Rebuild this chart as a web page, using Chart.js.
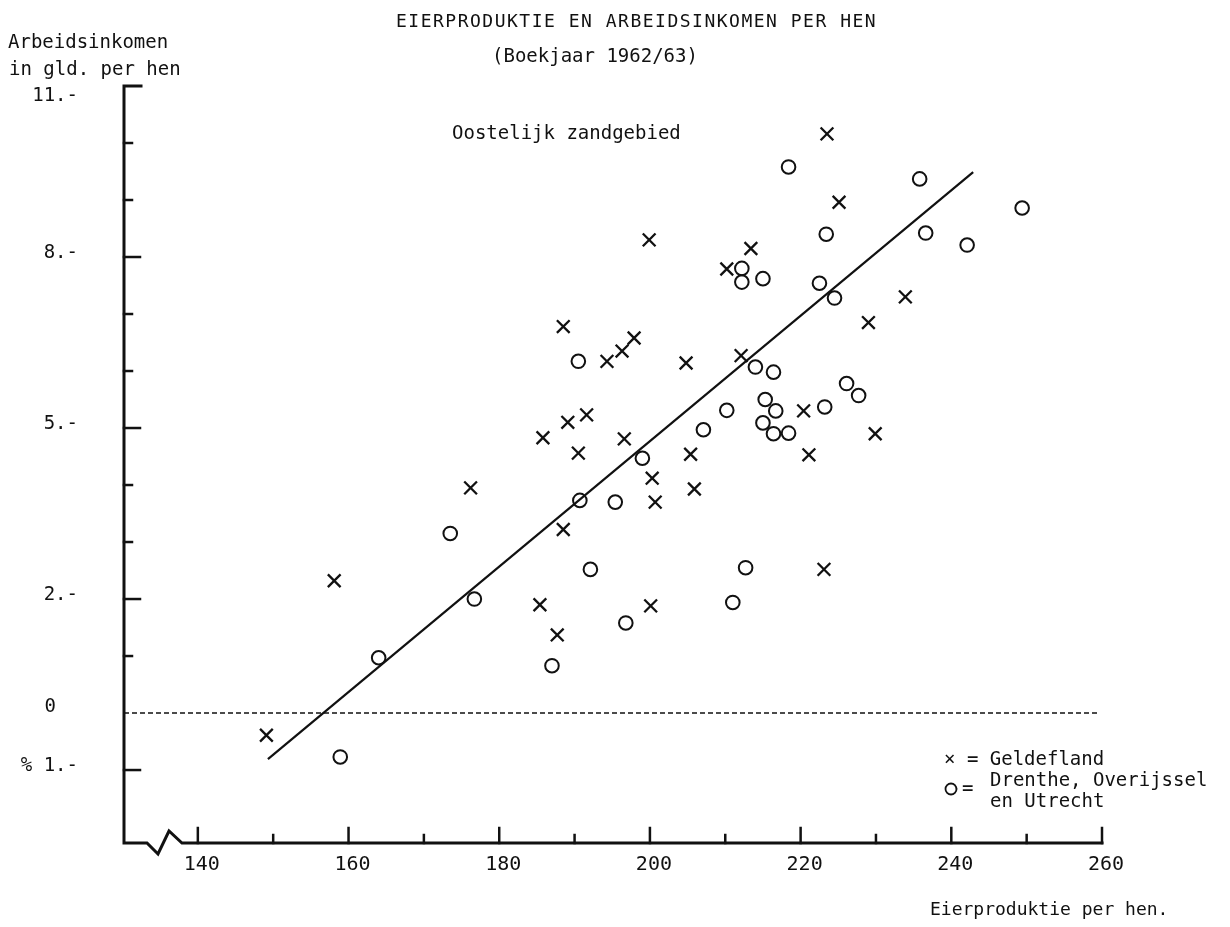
<!DOCTYPE html>
<html>
<head>
<meta charset="utf-8">
<script src="https://cdn.jsdelivr.net/npm/chart.js@4.4.0/dist/chart.umd.min.js"></script>
<style>
  html, body { margin: 0; padding: 0; background: #fff; }
  #wrap { width: 1230px; height: 927px; }
</style>
</head>
<body>
<div id="wrap"><canvas id="eierChart" width="1230" height="927"></canvas></div>
<script>
// Gelderland (x)
var gelderlandX = [149.1, 158.1, 176.2, 185.4, 187.7, 188.5, 185.8, 189.1, 191.6, 190.5, 188.5,
                   194.3, 196.3, 197.9, 196.6, 199.9, 200.3, 200.7, 200.1, 204.8, 205.4, 205.9,
                   210.2, 213.4, 212.1, 223.5, 225.1, 220.4, 221.1, 223.1, 229.0, 233.9, 229.9];
var gelderlandY = [-0.39, 2.32, 3.95, 1.90, 1.37, 3.22, 4.83, 5.10, 5.23, 4.56, 6.78,
                   6.17, 6.35, 6.58, 4.81, 8.30, 4.12, 3.70, 1.88, 6.14, 4.54, 3.93,
                   7.79, 8.15, 6.27, 10.16, 8.96, 5.30, 4.53, 2.52, 6.85, 7.30, 4.90];
// Drenthe, Overijssel en Utrecht (o)
var drentheX = [158.9, 164.0, 173.5, 176.7, 187.0, 190.7, 190.5, 192.1, 195.4, 196.8, 199.0,
                207.1, 210.2, 211.0, 212.2, 212.2, 212.7, 214.0, 215.0, 215.0, 215.3, 216.4,
                216.7, 216.4, 218.4, 218.4, 222.5, 223.2, 223.4, 224.5, 226.1, 227.7, 235.8,
                236.6, 242.1, 249.4];
var drentheY = [-0.77, 0.97, 3.15, 2.00, 0.83, 3.73, 6.17, 2.52, 3.70, 1.58, 4.47,
                4.97, 5.31, 1.94, 7.80, 7.56, 2.55, 6.07, 7.62, 5.09, 5.50, 5.98,
                5.30, 4.90, 4.91, 9.58, 7.54, 5.37, 8.40, 7.28, 5.78, 5.57, 9.37,
                8.42, 8.21, 8.86];
// regressielijn
var trendX = [149.3, 242.9];
var trendY = [-0.81, 9.49];

var xTicks = [140, 150, 160, 170, 180, 190, 200, 210, 220, 230, 240, 250, 260];
var xTickLabels = ['140', '', '160', '', '180', '', '200', '', '220', '', '240', '', '260'];
var yTicks = [-1, 0, 1, 2, 3, 4, 5, 6, 7, 8, 9, 10, 11];
var yTickLabels = ['% 1.-', '0', '', '2.-', '', '', '5.-', '', '', '8.-', '', '', '11.-'];

var X_MIN = 130.2, X_MAX = 260, Y_MIN = -2.28, Y_MAX = 11;
var INK = '#111';
var MONO = '"DejaVu Sans Mono", "Liberation Mono", monospace';

function pts(xs, ys) {
  return xs.map(function (x, i) { return { x: x, y: ys[i] }; });
}

var axesPlugin = {
  id: 'plotAxes',
  afterDraw: function (chart) {
    var c = chart.ctx, xs = chart.scales.x, ys = chart.scales.y;
    var L = xs.getPixelForValue(X_MIN), R = xs.getPixelForValue(X_MAX);
    var T = ys.getPixelForValue(Y_MAX), B = ys.getPixelForValue(Y_MIN);
    c.save();
    c.strokeStyle = INK;
    c.fillStyle = INK;
    c.lineCap = 'square';

    // assen, met onderbreking
    c.lineWidth = 3;
    c.beginPath();
    c.moveTo(L + 17, T);
    c.lineTo(L, T);
    c.lineTo(L, B);
    c.lineTo(L + 23, B);
    c.lineTo(L + 34, B + 11);
    c.lineTo(L + 45, B - 12);
    c.lineTo(L + 58, B);
    c.lineTo(R, B);
    c.stroke();

    // y ticks (naar binnen)
    c.lineWidth = 2.5;
    yTicks.forEach(function (v, i) {
      if (v === 0 || v === Y_MAX) return;
      var py = ys.getPixelForValue(v);
      var len = yTickLabels[i] ? 16 : 8;
      c.beginPath(); c.moveTo(L, py); c.lineTo(L + len, py); c.stroke();
    });
    // x ticks (omhoog)
    xTicks.forEach(function (v, i) {
      var px = xs.getPixelForValue(v);
      var len = xTickLabels[i] ? 15 : 8;
      c.beginPath(); c.moveTo(px, B); c.lineTo(px, B - len); c.stroke();
    });

    // tick labels
    c.font = '20px ' + MONO;
    c.textBaseline = 'middle';
    c.textAlign = 'center';
    xTicks.forEach(function (v, i) {
      if (!xTickLabels[i]) return;
      c.fillText(xTickLabels[i], xs.getPixelForValue(v) + 4, B + 22);
    });
    c.font = '19px ' + MONO;
    c.textAlign = 'right';
    yTicks.forEach(function (v, i) {
      if (!yTickLabels[i]) return;
      var py = ys.getPixelForValue(v);
      if (v === Y_MAX) py += 14;
      if (v === 0) { c.fillText(yTickLabels[i], 56, py - 6); return; }
      c.fillText(yTickLabels[i], 78, py - 4);
    });

    // titels
    c.textAlign = 'left';
    c.fillText('Arbeidsinkomen', 8, 43);
    c.fillText('in gld. per hen', 9, 70);
    c.letterSpacing = '1.5px';
    c.font = '18px ' + MONO;
    c.fillText('EIERPRODUKTIE EN ARBEIDSINKOMEN PER HEN', 396, 22);
    c.letterSpacing = '0px';
    c.font = '19px ' + MONO;
    c.fillText('(Boekjaar 1962/63)', 492, 57);
    c.fillText('Oostelijk zandgebied', 452, 134);
    c.font = '18px ' + MONO;
    c.fillText('Eierproduktie per hen.', 930, 910);

    // legenda
    c.font = '19px ' + MONO;
    c.fillText('\u00d7 = Geldefland', 944, 760);
    c.fillText('Drenthe, Overijssel', 990, 781);
    c.fillText('en Utrecht', 990, 802);
    c.fillText('=', 962, 789);
    c.lineWidth = 1.8;
    c.beginPath(); c.arc(951, 789, 5.5, 0, Math.PI * 2); c.stroke();
    c.restore();
  }
};

var ctx = document.getElementById('eierChart').getContext('2d');
var eierChart = new Chart(ctx, {
  type: 'scatter',
  data: {
    datasets: [
      {
        label: 'nul',
        data: pts([X_MIN, 259.7], [0, 0]),
        showLine: true,
        borderColor: INK,
        borderWidth: 1.6,
        borderDash: [5, 3],
        pointRadius: 0
      },
      {
        label: 'trend',
        data: pts(trendX, trendY),
        showLine: true,
        borderColor: INK,
        borderWidth: 2.2,
        pointRadius: 0
      },
      {
        label: 'Geldefland',
        data: pts(gelderlandX, gelderlandY),
        pointStyle: 'crossRot',
        pointRadius: 9,
        borderColor: INK,
        borderWidth: 2.3
      },
      {
        label: 'Drenthe, Overijssel en Utrecht',
        data: pts(drentheX, drentheY),
        pointStyle: 'circle',
        pointRadius: 6.8,
        backgroundColor: 'rgba(0,0,0,0)',
        borderColor: INK,
        borderWidth: 2
      }
    ]
  },
  options: {
    responsive: false,
    animation: false,
    devicePixelRatio: 1,
    layout: { padding: { left: 124, right: 128, top: 86, bottom: 84 } },
    plugins: {
      legend: { display: false },
      tooltip: { enabled: false }
    },
    scales: {
      x: { type: 'linear', min: X_MIN, max: X_MAX, display: false },
      y: { type: 'linear', min: Y_MIN, max: Y_MAX, display: false }
    }
  },
  plugins: [axesPlugin]
});
</script>
</body>
</html>
